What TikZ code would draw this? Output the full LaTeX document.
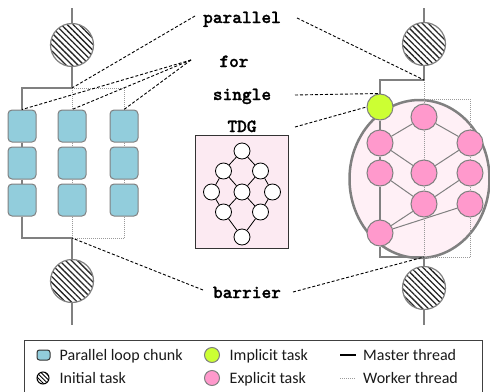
\documentclass[tikz,border=0pt]{standalone}
\usepackage{fontspec}
\setmainfont{Carlito}
\newfontfamily\kwfont{lmmonolt10-bold.otf}[FakeBold=1.2]
\usepackage{tikz}
\usetikzlibrary{positioning, shapes.geometric, patterns.meta}

\definecolor{chunkblue}{HTML}{92CDDC}
\definecolor{threadgray}{HTML}{808080}
\definecolor{impgreen}{HTML}{CCFF33}
\definecolor{exppink}{HTML}{FF99CC}
\definecolor{regionpink}{HTML}{FFF0F6}
\definecolor{tdgpink}{HTML}{FCEAF2}

\begin{document}
\begin{tikzpicture}[x=1pt, y=-1pt,
	chunk/.style={draw=threadgray, fill=chunkblue, line width=1pt, rounded corners=4pt,
		minimum width=28pt, minimum height=32pt, inner sep=0pt},
	itask/.style={circle, draw=threadgray, line width=1.2pt, minimum size=43pt, inner sep=0pt,
		pattern={Lines[angle=-45, distance=4.2pt, line width=1.3pt]}, pattern color=black!85},
	impl/.style={circle, draw=threadgray, line width=1pt, fill=impgreen, minimum size=26pt, inner sep=0pt},
	expl/.style={circle, draw=threadgray, line width=1pt, fill=exppink, minimum size=26pt, inner sep=0pt},
	tdgnode/.style={circle, draw=black, line width=0.8pt, fill=white, minimum size=16pt, inner sep=0pt},
	master/.style={threadgray, line width=2.5pt},
	worker/.style={threadgray!80, line width=0.8pt, dash pattern=on 1pt off 1pt},
	dep/.style={threadgray, line width=1pt},
	callout/.style={black, line width=0.9pt, dash pattern=on 3pt off 2pt},
	kw/.style={font=\kwfont\fontsize{18.5}{20}\selectfont, inner sep=0pt, text height=11pt, text depth=3pt},
	lgtext/.style={font=\fontsize{16}{19}\selectfont, text=black!90, inner sep=0pt, text height=13.5pt, text depth=2.5pt},
]
\useasboundingbox (0,0) rectangle (490,391);
%1. 背景区域
\node[ellipse, draw=threadgray, line width=2.5pt, fill=regionpink, minimum width=140pt,
	minimum height=158pt, inner sep=0pt] (region) at (419.5,179) {};
\node[draw=black!80, line width=0.8pt, fill=tdgpink, minimum width=93pt, minimum height=113pt,
	inner sep=0pt] (tdgbox) at (241.5,191.5) {};

%2. 左侧: parallel for
\coordinate (Ltop) at (72,8);
\node[itask] (Linit) at (72,45) {};
\coordinate (Lfork) at (72,88);
\foreach \col/\x in {1/22,2/72,3/124}
	\foreach \row/\y in {1/126,2/163,3/200}
		\node[chunk] (c\col\row) at (\x,\y) {};
\coordinate (Ljoin) at (72,238);
\node[itask] (Lfin) at (72,281) {};
\coordinate (Lend) at (72,325);

\draw[master] (Ltop) -- (Linit);
\draw[master] (Linit) -- (Lfork) -| (c11);
\draw[master] (c11) -- (c12) (c12) -- (c13);
\draw[master] (c13) |- (Ljoin) -- (Lfin);
\draw[master] (Lfin) -- (Lend);
\draw[worker] (Lfork) -- (c21) (c21) -- (c22) (c22) -- (c23) (c23) -- (Ljoin);
\draw[worker] (Lfork) -| (c31);
\draw[worker] (c31) -- (c32) (c32) -- (c33);
\draw[worker] (c33) |- (Ljoin);

%3. 右侧: parallel + single + tasks
\coordinate (Rtop) at (424,8);
\node[itask] (Rinit) at (424,44) {};
\coordinate (Rfork) at (424,80);
\coordinate (Rsplit) at (424,99);
\node[impl] (imp) at (380,107) {};
\foreach \n/\x/\y in {1/424/117, 2/380/143, 3/470/143, 4/380/173, 5/424/173,
		6/470/173, 7/424/204, 8/470/204, 9/380/233}
	\node[expl] (e\n) at (\x,\y) {};
\coordinate (Rjoin) at (424,257);
\node[itask] (Rfin) at (424,288) {};
\coordinate (Rend) at (424,325);

\foreach \a/\b in {1/2,1/3,2/5,3/5,4/7,6/7,9/7,9/8}
	\draw[dep] (e\a) -- (e\b);
\draw[master] (Rtop) -- (Rinit);
\draw[master] (Rinit) -- (Rfork) -| (imp);
\draw[master] (imp) -- (e2) (e2) -- (e4) (e4) -- (e9);
\draw[master] (e9) |- (Rjoin) -- (Rfin);
\draw[master] (Rfin) -- (Rend);
\draw[worker] (Rfork) -- (e1) (e1) -- (e5) (e5) -- (e7) (e7) -- (Rjoin);
\draw[worker] (Rsplit) -| (e3);
\draw[worker] (e3) -- (e6) (e6) -- (e8);
\draw[worker] (e8) |- (Rjoin);

%4. TDG
\foreach \n/\x/\y in {1/242/151, 2/223.5/171, 3/260.5/171, 4/211.5/192, 5/242/192,
		6/272.5/192, 7/223.5/212, 8/260.5/212, 9/242/237}
	\node[tdgnode] (t\n) at (\x,\y) {};
\foreach \a/\b in {1/2,1/3,2/4,2/5,3/5,3/6,4/7,5/7,5/8,6/8,7/9,8/9}
	\draw[black, line width=0.8pt] (t\a) -- (t\b);

%5. 关键字与虚线标注
\node[kw] (kpar) at (242,19) {parallel};
\node[kw] (kfor) at (234,63) {for};
\node[kw] (ksgl) at (242,96) {single};
\node[kw] (ktdg) at (242,128) {TDG};
\node[kw] (kbar) at (247,294) {barrier};

\coordinate (parL) at (195,16);
\coordinate (parR) at (297,18);
\coordinate (forL) at (191,60);
\coordinate (sglR) at (295,95);
\coordinate (tdgR) at (295,127);
\coordinate (barL) at (203,290);
\coordinate (barR) at (293,292);
\draw[callout] (parL) -- (Lfork);
\draw[callout] (parR) -- (Rfork);
\foreach \col in {1,2,3}
	\draw[callout] (forL) -- (c\col1.north);
\draw[callout] (sglR) -- (imp.north);
\draw[callout] (tdgR) -- (imp.west);
\draw[callout] (barL) -- (Ljoin);
\draw[callout] (barR) -- (Rjoin);

%6. 图例
\draw[black!75, line width=0.8pt] (24,340) rectangle (482,394);
\node[chunk, minimum width=13pt, minimum height=10pt, rounded corners=2.5pt, draw=black!80] (lgchunk) at (43.5,355) {};
\node[lgtext, right=9pt of lgchunk] (lgchunktxt) {Parallel loop chunk};
\node[circle, draw=black, line width=1pt, minimum size=12pt, inner sep=0pt,
	pattern={Lines[angle=-45, distance=3pt, line width=0.9pt]}] (lginit) at (43,378) {};
\node[lgtext, right=10pt of lginit] (lginittxt) {Initial task};
\node[impl, minimum size=15pt] (lgimp) at (212,355) {};
\node[lgtext, right=9.5pt of lgimp] (lgimptxt) {Implicit task};
\node[expl, minimum size=15pt] (lgexp) at (212,378) {};
\node[lgtext, right=9.5pt of lgexp] (lgexptxt) {Explicit task};
\coordinate (lgm1) at (340,355);
\coordinate (lgm2) at (356,355);
\coordinate (lgw1) at (340,378);
\coordinate (lgw2) at (356,378);
\draw[black, line width=2.5pt] (lgm1) -- (lgm2);
\draw[worker] (lgw1) -- (lgw2);
\node[lgtext, right=7pt of lgm2] (lgmtxt) {Master thread};
\node[lgtext, right=7pt of lgw2] (lgwtxt) {Worker thread};
\end{tikzpicture}
\end{document}
